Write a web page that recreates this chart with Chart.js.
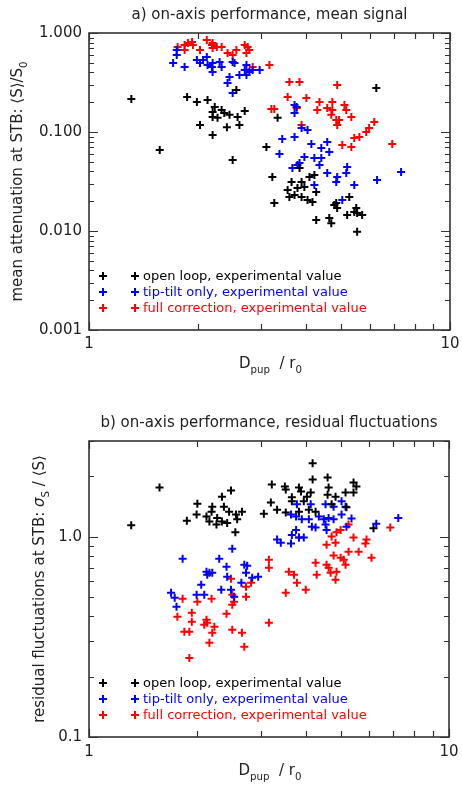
<!DOCTYPE html>
<html>
<head>
<meta charset="utf-8">
<script src="https://cdn.jsdelivr.net/npm/chart.js@4/dist/chart.umd.min.js"></script>
<style>
body { margin: 0; background: #fff; width: 462px; height: 785px; overflow: hidden; }
canvas { position: absolute; left: 0; }
</style>
</head>
<body>
<canvas id="chartA" width="462" height="392" style="top:0"></canvas>
<canvas id="chartB" width="462" height="393" style="top:392px"></canvas>
<script>
// series names + colours
const seriesNames = ['open loop, experimental value', 'tip-tilt only, experimental value', 'full correction, experimental value'];
const seriesColors = ['#000000', '#0000ff', '#ff0000'];

// a) mean attenuation <S>/S0 vs Dpup/r0
const openA = [[1.31,0.216],[1.57,0.0658],[1.87,0.226],[1.99,0.201],[2.13,0.211],[2.23,0.179],[2.20,0.159],[2.33,0.167],
    [2.45,0.149],[2.20,0.142],[2.27,0.139],[2.58,0.142],[2.70,0.163],[2.56,0.266],[2.03,0.118],[2.41,0.112],[2.61,0.118],
    [2.20,0.0933],[2.50,0.0521],[3.33,0.139],[3.10,0.0706],[6.25,0.278],[3.22,0.0351],[2.37,0.156],[3.64,0.0313],
    [3.88,0.0313],[4.08,0.0351],[4.21,0.0368],[3.55,0.0259],[3.78,0.0272],[3.95,0.0278],[4.26,0.0248],[3.71,0.0231],
    [3.88,0.0221],[4.03,0.0206],[4.16,0.0196],[3.59,0.0221],[3.26,0.0192],[4.84,0.0192],[4.87,0.0171],[5.26,0.0221],
    [5.50,0.0171],[5.53,0.0152],[5.19,0.0145],[5.71,0.0145],[4.63,0.0135],[4.69,0.0120],[4.26,0.0129],[5.53,0.0098],
    [5.43,0.0156],[3.83,0.0433],[4.78,0.0183]];
const tiltA = [[1.71,0.498],[1.75,0.673],[1.75,0.600],[1.84,0.454],[1.99,0.533],[2.03,0.498],[2.12,0.572],[2.13,0.475],
    [2.19,0.454],[2.20,0.404],[2.30,0.509],[2.33,0.454],[2.45,0.360],[2.50,0.509],[2.53,0.498],[2.73,0.475],[2.70,0.423],
    [2.73,0.377],[2.78,0.404],[2.84,0.423],[2.97,0.423],[2.61,0.377],[2.42,0.313],[2.50,0.248],[2.07,0.533],[2.20,0.498],
    [3.76,0.179],[3.71,0.156],[3.88,0.110],[4.03,0.105],[3.43,0.0850],[3.71,0.0890],[4.13,0.0756],[4.40,0.0690],
    [4.57,0.0792],[4.63,0.0628],[3.37,0.0600],[3.95,0.0559],[4.21,0.0546],[4.40,0.0546],[4.35,0.0464],[3.66,0.0433],
    [3.78,0.0464],[4.57,0.0385],[4.87,0.0351],[5.19,0.0443],[5.16,0.0385],[5.43,0.0292],[6.28,0.0328],[7.32,0.0394],
    [4.21,0.0292],[5.03,0.0206],[4.84,0.0313],[3.83,0.0486],[3.71,0.187]];
const fullA = [[1.76,0.722],[1.84,0.673],[1.93,0.811],[1.94,0.757],[1.88,0.793],[2.03,0.673],[2.12,0.849],[2.19,0.757],
    [2.20,0.705],[2.26,0.722],[2.33,0.722],[2.20,0.793],[2.42,0.628],[2.50,0.600],[2.56,0.673],[2.70,0.757],[2.75,0.722],
    [2.78,0.673],[2.73,0.628],[2.84,0.454],[3.16,0.475],[1.84,0.757],[3.59,0.320],[3.83,0.320],[4.87,0.298],[3.55,0.226],
    [4.00,0.221],[4.35,0.201],[4.72,0.201],[5.10,0.187],[3.20,0.171],[3.26,0.171],[3.76,0.175],[4.29,0.167],[4.57,0.175],
    [4.69,0.149],[5.16,0.167],[5.33,0.142],[4.84,0.132],[4.87,0.118],[4.93,0.132],[3.88,0.118],[6.17,0.126],[5.97,0.110],
    [5.86,0.100],[5.61,0.0890],[5.43,0.0869],[5.03,0.0739],[5.33,0.0706],[6.92,0.0756],[4.72,0.167]];

// b) residual fluctuations sigma_S/<S> vs Dpup/r0
const openB = [[1.31,1.14],[1.57,1.76],[1.87,1.20],[1.99,1.29],[2.00,1.46],[2.12,1.26],[2.16,1.19],[2.19,1.33],[2.20,1.41],
    [2.26,1.15],[2.27,1.24],[2.34,1.58],[2.34,1.19],[2.37,1.41],[2.42,1.17],[2.45,1.33],[2.48,1.70],[2.55,1.05],[2.56,1.29],
    [2.58,1.22],[2.66,1.33],[3.06,1.30],[3.22,1.82],[3.20,1.48],[3.33,1.36],[3.50,1.78],[3.52,1.72],[3.52,1.32],[3.66,1.57],
    [3.66,1.50],[3.83,1.76],[3.83,1.33],[3.88,1.68],[3.95,1.50],[4.03,1.58],[4.08,1.36],[4.13,1.66],[4.18,2.32],[4.18,1.93],
    [4.26,1.33],[4.60,1.97],[4.63,1.76],[4.60,1.62],[4.72,1.45],[4.84,1.58],[5.16,1.66],[5.19,1.40],[5.43,1.86],[5.53,1.78],
    [5.43,1.66],[6.17,1.10]];
const tiltB = [[1.69,0.525],[1.73,0.495],[1.75,0.447],[1.82,0.776],[1.99,0.513],[2.05,0.575],[2.09,0.513],[2.12,0.668],
    [2.13,0.646],[2.16,0.661],[2.20,0.661],[2.30,0.776],[2.33,0.543],[2.41,0.708],[2.42,0.631],[2.48,0.543],[2.50,0.871],
    [2.53,0.501],[2.65,0.589],[2.70,0.724],[2.75,0.716],[2.73,0.661],[2.84,0.624],[2.95,0.631],[3.33,0.966],[3.41,0.933],
    [3.64,0.923],[3.66,1.02],[3.76,1.08],[3.83,0.989],[3.95,0.989],[3.64,1.29],[3.76,1.26],[3.78,1.45],[3.90,1.22],
    [4.08,1.22],[4.13,1.45],[4.16,1.12],[4.26,1.11],[4.35,1.26],[4.49,1.22],[4.54,1.45],[4.54,1.15],[4.57,1.08],[4.63,1.24],
    [4.78,1.41],[4.78,1.22],[5.03,1.50],[5.03,1.29],[5.16,1.41],[5.19,1.12],[5.36,1.23],[6.28,1.16],[7.23,1.24]];
const fullB = [[1.76,0.398],[1.82,0.490],[1.84,0.335],[1.90,0.335],[1.90,0.248],[1.93,0.417],[1.93,0.376],[2.00,0.473],
    [2.09,0.363],[2.12,0.385],[2.13,0.372],[2.16,0.295],[2.19,0.490],[2.20,0.331],[2.23,0.355],[2.41,0.412],[2.48,0.617],
    [2.50,0.513],[2.50,0.457],[2.50,0.343],[2.53,0.473],[2.66,0.331],[2.70,0.282],[2.73,0.562],[2.73,0.501],[2.82,0.589],
    [3.16,0.767],[3.16,0.700],[3.16,0.372],[3.52,0.525],[3.59,0.668],[3.71,0.646],[3.78,0.589],[4.00,0.543],[4.26,0.741],
    [4.29,0.646],[4.57,0.724],[4.63,0.700],[4.69,0.661],[4.84,0.610],[4.87,0.668],[4.78,0.804],[5.00,0.785],[5.10,0.767],
    [5.16,0.724],[5.26,0.841],[5.61,0.841],[6.09,0.785],[4.57,0.912],[4.72,1.00],[4.84,0.933],[4.87,1.05],[5.00,1.08],
    [5.26,1.15],[5.43,0.989],[5.86,0.923],[5.90,0.966],[6.87,1.11],[3.83,0.989]];

// ticks
const xTickValues = [1, 10];
const xTickLabels = ['1', '10'];
const yTickValuesA = [0.001, 0.01, 0.1, 1];
const yTickLabelsA = ['0.001', '0.010', '0.100', '1.000'];
const yTickValuesB = [0.1, 1];
const yTickLabelsB = ['0.1', '1.0'];

const FONT = 'DejaVu Sans';
const TEXT = '#222';

function toPts(arr) { return arr.map(p => ({ x: p[0], y: p[1] })); }

// draw text made of pieces, some subscript / italic, centred on (x,y)
function drawRich(ctx, parts, x, y, rot, size) {
    const fontOf = p => (p.it ? 'italic ' : '') + (p.sub ? size * 0.68 : size) + 'px ' + FONT;
    let total = 0;
    parts.forEach(p => { ctx.font = fontOf(p); p.w = ctx.measureText(p.t).width; total += p.w; });
    ctx.save();
    ctx.translate(x, y);
    ctx.rotate(rot);
    ctx.fillStyle = TEXT;
    ctx.textAlign = 'left';
    ctx.textBaseline = 'alphabetic';
    let cx = -total / 2;
    parts.forEach(p => {
        ctx.font = fontOf(p);
        ctx.fillText(p.t, cx, size * 0.36 + (p.sub ? size * 0.28 : 0));
        cx += p.w;
    });
    ctx.restore();
}

function logTicks(min, max) {
    const out = [];
    for (let e = Math.floor(Math.log10(min)); e <= Math.ceil(Math.log10(max)); e++) {
        for (let k = 1; k <= 9; k++) {
            const v = k * Math.pow(10, e);
            if (v >= min * 0.999 && v <= max * 1.001) out.push({ v: v, major: k === 1 });
        }
    }
    return out;
}

function makeFramePlugin(cfg) {
    return {
        id: 'frame',
        afterDatasetsDraw(chart) {
            const ctx = chart.ctx;
            const a = chart.chartArea;
            const xs = chart.scales.x, ys = chart.scales.y;
            ctx.save();
            ctx.strokeStyle = '#333';
            ctx.lineWidth = 1.2;
            ctx.beginPath();
            logTicks(xs.min, xs.max).forEach(t => {
                const px = Math.round(xs.getPixelForValue(t.v)) + 0.5;
                const len = t.major ? 8 : 6;
                ctx.moveTo(px, a.bottom); ctx.lineTo(px, a.bottom - len);
                ctx.moveTo(px, a.top); ctx.lineTo(px, a.top + len);
            });
            logTicks(ys.min, ys.max).forEach(t => {
                const py = Math.round(ys.getPixelForValue(t.v)) + 0.5;
                const len = t.major ? 9 : 5;
                ctx.moveTo(a.left, py); ctx.lineTo(a.left + len, py);
                ctx.moveTo(a.right, py); ctx.lineTo(a.right - len, py);
            });
            ctx.stroke();
            ctx.lineWidth = 1.6;
            ctx.strokeRect(a.left, a.top, a.right - a.left, a.bottom - a.top);

            // tick labels
            ctx.fillStyle = TEXT;
            ctx.font = '15px ' + FONT;
            ctx.textAlign = 'center';
            ctx.textBaseline = 'middle';
            xTickValues.forEach((v, i) => ctx.fillText(xTickLabels[i], xs.getPixelForValue(v), a.bottom + cfg.xLabelGap));
            ctx.textAlign = 'right';
            cfg.yTickValues.forEach((v, i) => ctx.fillText(cfg.yTickLabels[i], a.left - 7, ys.getPixelForValue(v)));

            // legend (inside, lower left)
            ctx.font = '13px ' + FONT;
            ctx.textAlign = 'left';
            chart.data.datasets.forEach((ds, i) => {
                const y = a.bottom - 54 + i * 16;
                ctx.strokeStyle = ds.borderColor;
                ctx.lineWidth = 2;
                [a.left + 14, a.left + 46].forEach(cx => {
                    ctx.beginPath();
                    ctx.moveTo(cx - 4, y); ctx.lineTo(cx + 4, y);
                    ctx.moveTo(cx, y - 4); ctx.lineTo(cx, y + 4);
                    ctx.stroke();
                });
                ctx.fillStyle = ds.borderColor;
                ctx.fillText(ds.label, a.left + 54, y + 1);
            });

            // titles
            ctx.fillStyle = TEXT;
            ctx.font = '15px ' + FONT;
            ctx.textAlign = 'center';
            ctx.fillText(cfg.title, (a.left + a.right) / 2, cfg.titleY);
            drawRich(ctx, [{ t: 'D' }, { t: 'pup', sub: true }, { t: '  / r' }, { t: '0', sub: true }],
                (a.left + a.right) / 2 + 1, a.bottom + cfg.xTitleGap, 0, 15);
            drawRich(ctx, cfg.yTitle, cfg.yTitleX, (a.top + a.bottom) / 2, -Math.PI / 2, 15);
            ctx.restore();
        }
    };
}

function makeChart(id, sets, yMin, yMax, pad, cfg) {
    const datasets = sets.map((s, i) => ({
        label: seriesNames[i],
        data: toPts(s),
        borderColor: seriesColors[i],
        backgroundColor: seriesColors[i],
        pointStyle: 'cross',
        pointRadius: 4,
        borderWidth: 2,
        showLine: false
    }));
    return new Chart(document.getElementById(id).getContext('2d'), {
        type: 'scatter',
        data: { datasets: datasets },
        options: {
            responsive: false,
            animation: false,
            events: [],
            layout: { padding: pad },
            plugins: { legend: { display: false }, tooltip: { enabled: false }, title: { display: false } },
            scales: {
                x: { type: 'logarithmic', min: 1, max: 10, display: false },
                y: { type: 'logarithmic', min: yMin, max: yMax, display: false }
            }
        },
        plugins: [makeFramePlugin(cfg)]
    });
}

makeChart('chartA', [openA, tiltA, fullA], 0.001, 1, { left: 89, right: 12, top: 33, bottom: 62 }, {
    title: 'a) on-axis performance, mean signal',
    titleY: 15,
    yTickValues: yTickValuesA,
    yTickLabels: yTickLabelsA,
    xLabelGap: 14,
    xTitleGap: 33,
    yTitleX: 17,
    yTitle: [{ t: 'mean attenuation at STB: \u27E8S\u27E9/S' }, { t: '0', sub: true }]
});

makeChart('chartB', [openB, tiltB, fullB], 0.1, 3, { left: 89, right: 13, top: 49, bottom: 48 }, {
    title: 'b) on-axis performance, residual fluctuations',
    titleY: 31,
    yTickValues: yTickValuesB,
    yTickLabels: yTickLabelsB,
    xLabelGap: 15,
    xTitleGap: 33,
    yTitleX: 39,
    yTitle: [{ t: 'residual fluctuations at STB: ' }, { t: '\u03C3', it: true }, { t: 'S', sub: true }, { t: ' / \u27E8S\u27E9' }]
});
</script>
</body>
</html>
